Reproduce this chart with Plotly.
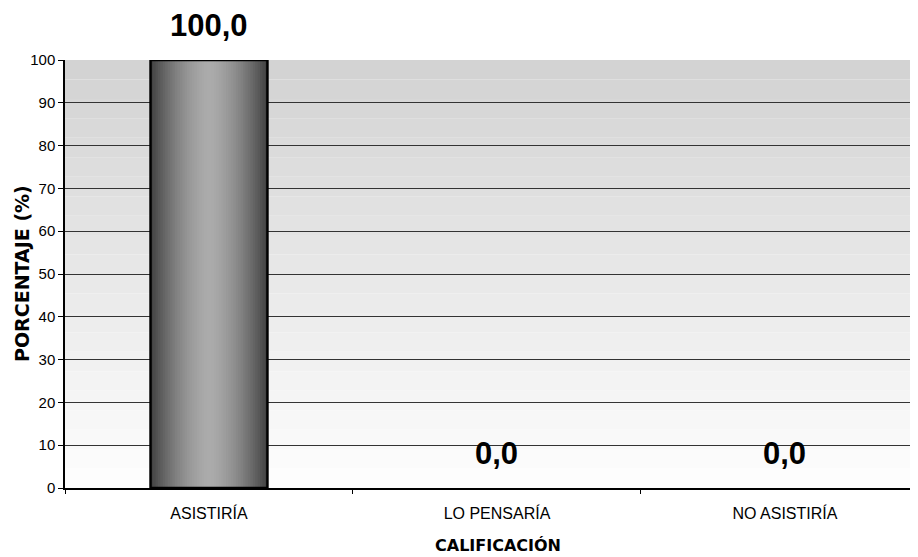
import plotly.graph_objects as go

categories = ["ASISTIRÍA", "LO PENSARÍA", "NO ASISTIRÍA"]
values = [100.0, 0.0, 0.0]
y_ticks = [0, 10, 20, 30, 40, 50, 60, 70, 80, 90, 100]

# page has an 8px body margin; compensate
W, H = 910, 549
ML, MR, MT, MB = 57, 0, 52, 69
BAR_W = 0.406

fig = go.Figure()

# cylinder-like shading: overlaid bars, outer dark -> inner light
N = 24
for k in range(N, 0, -1):
    r = k / N
    g = int(172 - 104 * (r ** 1.6))
    fig.add_trace(go.Bar(
        x=categories, y=values, width=BAR_W * r,
        marker=dict(color=f"rgb({g},{g},{g})", line=dict(width=0)),
        hoverinfo="skip", showlegend=False,
    ))
# outline (only for non-zero bars)
fig.add_trace(go.Bar(
    x=categories, y=values, width=BAR_W,
    marker=dict(color="rgba(0,0,0,0)",
                line=dict(color="black", width=[2.5 if v > 0 else 0 for v in values])),
    hoverinfo="skip", showlegend=False,
))

# background gradient bands
shapes = []
NB = 22
for i in range(NB):
    t = i / NB
    g = int(253 - 43 * t)
    shapes.append(dict(type="rect", xref="paper", yref="paper",
                       x0=0, x1=1, y0=i / NB, y1=(i + 1) / NB,
                       fillcolor=f"rgb({g},{g},{g})", line=dict(width=0),
                       layer="below"))

annotations = []
for c, v in zip(categories, values):
    annotations.append(dict(
        x=c, y=v, xref="x", yref="y", text=f"{v:.1f}".replace(".", ","),
        showarrow=False, yanchor="middle", yshift=35,
        font=dict(family="Liberation Sans", size=31, color="black", weight="bold"),
    ))
annotations.append(dict(
    xref="paper", yref="paper", x=0, y=0.5, xshift=-43, textangle=-90,
    text="PORCENTAJE (%)", showarrow=False, xanchor="center", yanchor="middle",
    font=dict(family="DejaVu Sans", size=19, color="black", weight="bold"),
))
annotations.append(dict(
    xref="paper", yref="paper", x=0.5, y=0, xshift=6, yshift=-57,
    text="CALIFICACIÓN", showarrow=False, xanchor="center", yanchor="middle",
    font=dict(family="DejaVu Sans", size=16, color="black", weight="bold"),
))

fig.update_layout(
    width=W, height=H,
    margin=dict(l=ML, r=MR, t=MT, b=MB, autoexpand=False),
    paper_bgcolor="white", plot_bgcolor="white",
    barmode="overlay", showlegend=False,
    shapes=shapes, annotations=annotations,
    font=dict(family="Liberation Sans", color="black"),
    xaxis=dict(
        type="category", range=[-0.5, 2.462], tickson="boundaries",
        ticks="outside", ticklen=4, tickcolor="black", ticklabelstandoff=10,
        showgrid=False, showline=True, linecolor="black", linewidth=1.5,
        tickfont=dict(family="Liberation Sans", size=16, color="black"),
        automargin=False,
    ),
    yaxis=dict(
        range=[0, 100], tickvals=y_ticks, ticks="outside", ticklen=5,
        tickcolor="black", showline=True, linecolor="black", linewidth=1.5,
        showgrid=True, gridcolor="#333333", gridwidth=1, zeroline=False,
        tickfont=dict(family="Liberation Sans", size=15, color="black"),
        automargin=False,
    ),
)

fig.write_html("out.html")
